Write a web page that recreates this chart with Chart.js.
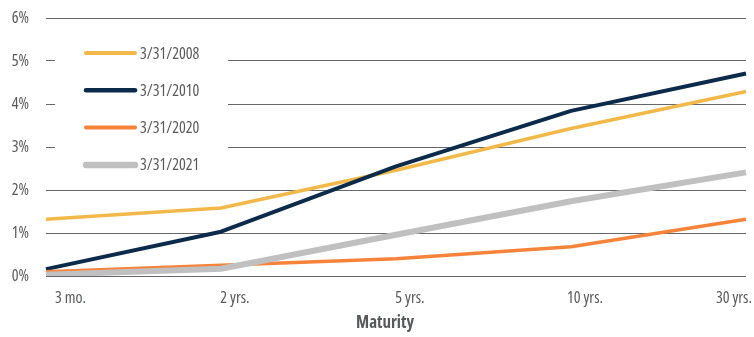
<!DOCTYPE html>
<html>
<head>
<meta charset="utf-8">
<script src="https://cdn.jsdelivr.net/npm/chart.js@4.4.0/dist/chart.umd.min.js"></script>
<style>
  html, body { margin: 0; padding: 0; background: #fff; }
  .wrap { width: 754px; height: 337px; position: relative; }
</style>
</head>
<body>
<div class="wrap"><canvas id="myChart"></canvas></div>
<script>
var maturities = ["3 mo.", "2 yrs.", "5 yrs.", "10 yrs.", "30 yrs."];
var yields2008 = [1.32, 1.58, 2.46, 3.43, 4.29];
var yields2010 = [0.16, 1.03, 2.55, 3.84, 4.71];
var yields2020 = [0.10, 0.25, 0.40, 0.68, 1.32];
var yields2021 = [0.03, 0.17, 0.96, 1.74, 2.41];
var yTicks = [0, 1, 2, 3, 4, 5, 6];
var axisTitle = "Maturity";

// Open Sans has a condensed width, close to the original's narrow face
var font = "'Open Sans', sans-serif";
var textColor = "#58595b";

// legend sits inside the plot, on a white box that hides the grid
var insideLegend = {
  id: 'insideLegend',
  beforeDatasetsDraw: function(chart) {
    var ctx = chart.ctx, area = chart.chartArea;
    ctx.save();
    ctx.fillStyle = '#fff';
    ctx.fillRect(area.left + 9, area.top + 12, 173, 160);
    ctx.restore();
  },
  afterDatasetsDraw: function(chart) {
    var ctx = chart.ctx, area = chart.chartArea;
    ctx.save();
    chart.data.datasets.forEach(function(ds, i) {
      var y = area.top + 35 + i * 37.3;
      ctx.strokeStyle = ds.borderColor;
      ctx.lineWidth = ds.borderWidth + 0.5;
      ctx.lineCap = 'round';
      ctx.beginPath();
      ctx.moveTo(area.left + 40, y);
      ctx.lineTo(area.left + 89, y);
      ctx.stroke();
      ctx.fillStyle = textColor;
      ctx.font = 'condensed 16px ' + font;
      ctx.textBaseline = 'middle';
      ctx.fillText(ds.label, area.left + 94, y + 1);
    });
    ctx.restore();
  }
};

// x labels sit a bit right of their points, kept between the legend edge and the canvas edge
var shiftedXLabels = {
  id: 'shiftedXLabels',
  afterDraw: function(chart) {
    var ctx = chart.ctx, scale = chart.scales.x, area = chart.chartArea;
    ctx.save();
    ctx.font = 'condensed 16px ' + font;
    ctx.fillStyle = textColor;
    ctx.textAlign = 'center';
    ctx.textBaseline = 'middle';
    maturities.forEach(function(label, i) {
      var w = ctx.measureText(label).width;
      var x = scale.getPixelForValue(i) + 14;
      x = Math.max(x, area.left + 9 + w / 2);
      x = Math.min(x, chart.width - 2 - w / 2);
      ctx.fillText(label, x, scale.top + 22);
    });
    ctx.font = 'condensed bold 17px ' + font;
    ctx.textBaseline = 'alphabetic';
    ctx.fillText(axisTitle, (area.left + area.right) / 2 - 11, scale.top + 52);
    ctx.restore();
  }
};

var ctx = document.getElementById('myChart').getContext('2d');
var myChart = new Chart(ctx, {
  type: 'line',
  data: {
    labels: maturities,
    datasets: [
      { label: "3/31/2008", data: yields2008, borderColor: "#f2b94a", borderWidth: 3.5, order: 4 },
      { label: "3/31/2010", data: yields2010, borderColor: "#0c2b4b", borderWidth: 4, order: 3 },
      { label: "3/31/2020", data: yields2020, borderColor: "#f5843a", borderWidth: 3.5, order: 2 },
      { label: "3/31/2021", data: yields2021, borderColor: "#c0c0c0", borderWidth: 6, order: 1 }
    ]
  },
  options: {
    responsive: true,
    maintainAspectRatio: false,
    animation: false,
    layout: { padding: { top: 18, right: 8, left: 0, bottom: 0 } },
    elements: {
      point: { radius: 0 },
      line: { tension: 0, borderJoinStyle: 'round', fill: false }
    },
    plugins: {
      legend: { display: false },
      tooltip: { enabled: false }
    },
    scales: {
      x: {
        grid: { display: false },
        border: { display: false },
        ticks: { display: false },
        afterFit: function(scale) { scale.height = 61; }
      },
      y: {
        min: 0,
        max: 6,
        grid: { color: '#66676b', lineWidth: 1, drawTicks: false },
        border: { display: false },
        ticks: {
          padding: 17,
          color: textColor,
          font: { family: font, size: 16, weight: 'condensed' },
          callback: function(v) { return v + '%'; }
        },
        afterBuildTicks: function(scale) {
          scale.ticks = yTicks.map(function(v) { return { value: v }; });
        },
        afterFit: function(scale) {
          scale.width = 46;
          scale.paddingTop = 0;
          scale.paddingBottom = 0;
        }
      }
    }
  },
  plugins: [insideLegend, shiftedXLabels]
});
</script>
</body>
</html>
